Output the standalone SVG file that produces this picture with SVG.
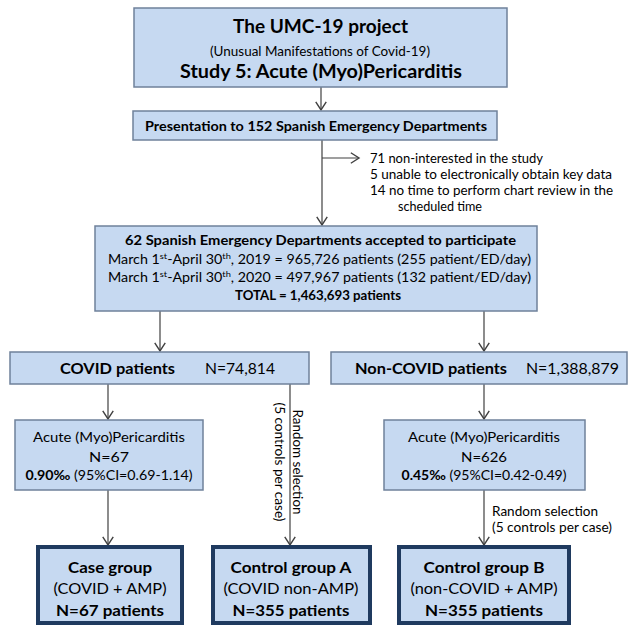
<svg xmlns="http://www.w3.org/2000/svg" width="636" height="626" viewBox="0 0 636 626">
<style>
  .box { fill: #c6d9f1; stroke: #6f819a; stroke-width: 1.5; }
  .tbox { fill: #c6d9f1; stroke: #1f3a5f; stroke-width: 4; }
  .t { font-family: Lato, "Open Sans", "Liberation Sans", sans-serif; fill: #000; }
  .b { font-weight: bold; }
  .c { text-anchor: middle; }
  .ln { stroke: #404040; stroke-width: 1.2; fill: none; }
  .sup { font-size: 65%; baseline-shift: super; }
</style>
<defs>
  <marker id="ah" markerUnits="userSpaceOnUse" markerWidth="14" markerHeight="14" refX="0" refY="0" viewBox="-8 -6 10 12" orient="auto" overflow="visible">
    <path d="M-7,-4.5 L0,0 L-7,4.5" fill="none" stroke="#404040" stroke-width="1.2"/>
  </marker>
</defs>
<rect width="636" height="626" fill="#fff"/>

<g id="connectors">
  <line class="ln" x1="321" y1="87" x2="321" y2="110" marker-end="url(#ah)"/>
  <line class="ln" x1="322" y1="140" x2="322" y2="225" marker-end="url(#ah)"/>
  <line class="ln" x1="322" y1="158" x2="359" y2="158" marker-end="url(#ah)"/>
  <line class="ln" x1="160" y1="311" x2="160" y2="351" marker-end="url(#ah)"/>
  <line class="ln" x1="484" y1="311" x2="484" y2="351" marker-end="url(#ah)"/>
  <line class="ln" x1="108" y1="384" x2="108" y2="419" marker-end="url(#ah)"/>
  <line class="ln" x1="484" y1="384" x2="484" y2="419" marker-end="url(#ah)"/>
  <line class="ln" x1="290" y1="384" x2="290" y2="545" marker-end="url(#ah)"/>
  <line class="ln" x1="108" y1="490" x2="108" y2="545" marker-end="url(#ah)"/>
  <line class="ln" x1="484" y1="490" x2="484" y2="545" marker-end="url(#ah)"/>
  <text class="t" font-size="12.5" transform="translate(293,462) rotate(90)" text-anchor="middle" textLength="105" lengthAdjust="spacingAndGlyphs">Random selection</text>
  <text class="t" font-size="12.5" transform="translate(275,462) rotate(90)" text-anchor="middle" textLength="119" lengthAdjust="spacingAndGlyphs">(5 controls per case)</text>
  <text class="t" font-size="12.5" x="492" y="516" textLength="106" lengthAdjust="spacingAndGlyphs">Random selection</text>
  <text class="t" font-size="12.5" x="492" y="532" textLength="120" lengthAdjust="spacingAndGlyphs">(5 controls per case)</text>
</g>

<g id="title">
  <rect class="box" x="134" y="8" width="373" height="79"/>
  <text class="t b c" font-size="18" x="320.5" y="33" textLength="175" lengthAdjust="spacingAndGlyphs">The UMC-19 project</text>
  <text class="t c" font-size="12.5" x="320" y="56" textLength="220" lengthAdjust="spacingAndGlyphs">(Unusual Manifestations of Covid-19)</text>
  <text class="t b c" font-size="18" x="321" y="78" textLength="282" lengthAdjust="spacingAndGlyphs">Study 5: Acute (Myo)Pericarditis</text>
</g>

<g id="presentation">
  <rect class="box" x="133" y="111" width="364" height="29"/>
  <text class="t b c" font-size="13" x="316" y="131" textLength="342" lengthAdjust="spacingAndGlyphs">Presentation to 152 Spanish Emergency Departments</text>
</g>

<g id="excluded">
  <text class="t" font-size="12.5" x="370" y="163" textLength="173" lengthAdjust="spacingAndGlyphs">71 non-interested in the study</text>
  <text class="t" font-size="12.5" x="370" y="179" textLength="242" lengthAdjust="spacingAndGlyphs">5 unable to electronically obtain key data</text>
  <text class="t" font-size="12.5" x="370" y="195" textLength="243" lengthAdjust="spacingAndGlyphs">14 no time to perform chart review in the</text>
  <text class="t" font-size="12.5" x="398" y="211" textLength="84" lengthAdjust="spacingAndGlyphs">scheduled time</text>
</g>

<g id="accepted">
  <rect class="box" x="95" y="226" width="442" height="85"/>
  <text class="t b c" font-size="13" x="320.5" y="245" textLength="391" lengthAdjust="spacingAndGlyphs">62 Spanish Emergency Departments accepted to participate</text>
  <text class="t c" font-size="13" x="319.5" y="264" textLength="423" lengthAdjust="spacingAndGlyphs">March 1<tspan class="sup">st</tspan>-April 30<tspan class="sup">th</tspan>, 2019 = 965,726 patients (255 patient/ED/day)</text>
  <text class="t c" font-size="13" x="319.5" y="282" textLength="423" lengthAdjust="spacingAndGlyphs">March 1<tspan class="sup">st</tspan>-April 30<tspan class="sup">th</tspan>, 2020 = 497,967 patients (132 patient/ED/day)</text>
  <text class="t b c" font-size="13" x="318" y="300" textLength="166" lengthAdjust="spacingAndGlyphs">TOTAL = 1,463,693 patients</text>
</g>

<g id="covid">
  <rect class="box" x="10" y="352" width="299" height="32"/>
  <text class="t b" font-size="15" x="60" y="374" textLength="115" lengthAdjust="spacingAndGlyphs">COVID patients</text>
  <text class="t" font-size="15" x="205" y="374" textLength="70" lengthAdjust="spacingAndGlyphs">N=74,814</text>
</g>

<g id="noncovid">
  <rect class="box" x="331" y="352" width="296" height="32"/>
  <text class="t b" font-size="15" x="355" y="374" textLength="152" lengthAdjust="spacingAndGlyphs">Non-COVID patients</text>
  <text class="t" font-size="15" x="526" y="374" textLength="93" lengthAdjust="spacingAndGlyphs">N=1,388,879</text>
</g>

<g id="amp-covid">
  <rect class="box" x="15" y="420" width="188" height="70"/>
  <text class="t c" font-size="13" x="109" y="442" textLength="152" lengthAdjust="spacingAndGlyphs">Acute (Myo)Pericarditis</text>
  <text class="t c" font-size="13" x="109" y="462" textLength="40" lengthAdjust="spacingAndGlyphs">N=67</text>
  <text class="t c" font-size="13" x="109" y="480" textLength="167" lengthAdjust="spacingAndGlyphs"><tspan class="b">0.90‰</tspan> (95%CI=0.69-1.14)</text>
</g>

<g id="amp-noncovid">
  <rect class="box" x="384" y="420" width="201" height="70"/>
  <text class="t c" font-size="13" x="484" y="442" textLength="152" lengthAdjust="spacingAndGlyphs">Acute (Myo)Pericarditis</text>
  <text class="t c" font-size="13" x="484" y="462" textLength="46" lengthAdjust="spacingAndGlyphs">N=626</text>
  <text class="t c" font-size="13" x="484" y="480" textLength="165" lengthAdjust="spacingAndGlyphs"><tspan class="b">0.45‰</tspan> (95%CI=0.42-0.49)</text>
</g>

<g id="case-group">
  <rect class="tbox" x="38" y="547" width="144" height="76"/>
  <text class="t b c" font-size="16" x="110" y="573" textLength="84" lengthAdjust="spacingAndGlyphs">Case group</text>
  <text class="t c" font-size="16" x="110" y="594" textLength="113" lengthAdjust="spacingAndGlyphs">(COVID + AMP)</text>
  <text class="t b c" font-size="16" x="110" y="616" textLength="108" lengthAdjust="spacingAndGlyphs">N=67 patients</text>
</g>

<g id="control-a">
  <rect class="tbox" x="213" y="547" width="157" height="76"/>
  <text class="t b c" font-size="16" x="291" y="573" textLength="121" lengthAdjust="spacingAndGlyphs">Control group A</text>
  <text class="t c" font-size="16" x="291" y="594" textLength="135" lengthAdjust="spacingAndGlyphs">(COVID non-AMP)</text>
  <text class="t b c" font-size="16" x="291" y="616" textLength="117" lengthAdjust="spacingAndGlyphs">N=355 patients</text>
</g>

<g id="control-b">
  <rect class="tbox" x="399" y="547" width="170" height="76"/>
  <text class="t b c" font-size="16" x="484" y="573" textLength="121" lengthAdjust="spacingAndGlyphs">Control group B</text>
  <text class="t c" font-size="16" x="484" y="594" textLength="147" lengthAdjust="spacingAndGlyphs">(non-COVID + AMP)</text>
  <text class="t b c" font-size="16" x="484" y="616" textLength="118" lengthAdjust="spacingAndGlyphs">N=355 patients</text>
</g>
</svg>
